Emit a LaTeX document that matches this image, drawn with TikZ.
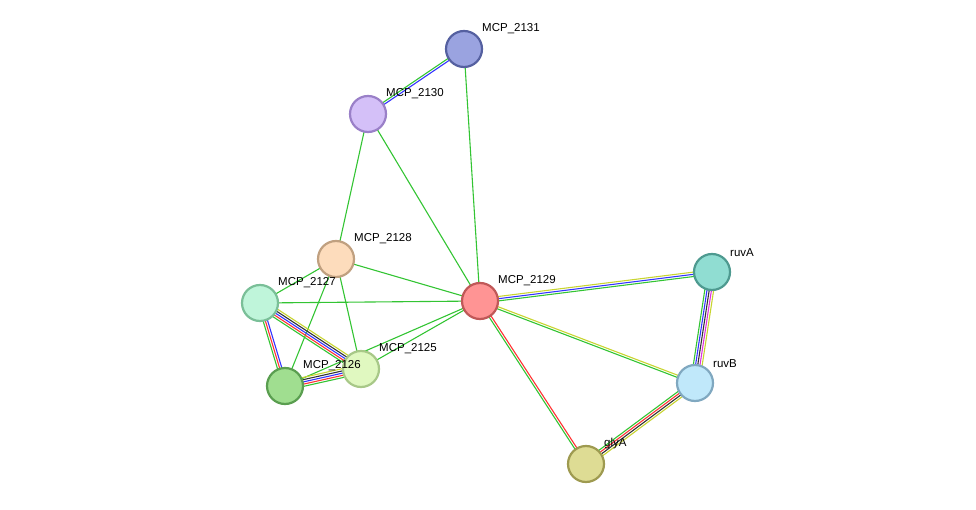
\documentclass[tikz,border=0pt]{standalone}
\usepackage{fontspec}
\setmainfont{Liberation Sans}
\usetikzlibrary{calc}
\definecolor{eg}{HTML}{33C433}
\definecolor{eb}{HTML}{3333FF}
\definecolor{er}{HTML}{FF3333}
\definecolor{ek}{HTML}{333333}
\definecolor{ey}{HTML}{C8D430}
\definecolor{em}{HTML}{DD33DD}
\newcommand{\medge}[3]{%
  \foreach \c [count=\i] in {#3} {\xdef\nn{\i}}%
  \foreach \c [count=\i] in {#3} {%
    \pgfmathsetmacro{\k}{(\i-(\nn+1)/2)*2.2}%
    \draw[\c,line width=1.1pt] ($(#1)!\k pt!90:(#2)$) -- ($(#2)!\k pt!-90:(#1)$);}}
\begin{document}
\begin{tikzpicture}[x=1pt,y=-1pt,
  prot/.style={circle,minimum size=36pt,inner sep=0pt,line width=2.2pt},
  lab/.style={font=\fontsize{11.5}{12}\selectfont,anchor=south west,inner sep=1pt}]
\useasboundingbox (0,0) rectangle (976,510);
\coordinate (n2131) at (464,49);
\coordinate (n2130) at (368,114);
\coordinate (n2128) at (336,259);
\coordinate (n2127) at (260,303);
\coordinate (n2129) at (480,301);
\coordinate (n2125) at (361,369);
\coordinate (n2126) at (285,386);
\coordinate (nruvA) at (712,272);
\coordinate (nruvB) at (695,383);
\coordinate (nglyA) at (586,464);
\medge{n2131}{n2130}{eg,eb}
\medge{n2131}{n2129}{eg}
\medge{n2130}{n2129}{eg}
\medge{n2130}{n2128}{eg}
\medge{n2128}{n2129}{eg}
\medge{n2128}{n2127}{eg}
\medge{n2128}{n2126}{eg}
\medge{n2128}{n2125}{eg}
\medge{n2127}{n2129}{eg}
\medge{n2125}{n2129}{eg}
\medge{n2126}{n2129}{eg}
\medge{n2127}{n2125}{eg,er,eb,ek,ey}
\medge{n2127}{n2126}{eg,er,eb}
\medge{n2126}{n2125}{eg,er,eb,ek,ey}
\medge{n2129}{nruvA}{eg,eb,ey}
\medge{n2129}{nruvB}{eg,ey}
\medge{n2129}{nglyA}{eg,er}
\medge{nruvA}{nruvB}{eg,eb,ek,em,ey}
\medge{nruvB}{nglyA}{eg,er,ek,ey}
\node[prot,fill={rgb,255:red,154;green,163;blue,224},draw={rgb,255:red,85;green,96;blue,160}] (a2131) at (n2131) {};
\node[prot,fill={rgb,255:red,212;green,192;blue,248},draw={rgb,255:red,154;green,128;blue,200}] (a2130) at (n2130) {};
\node[prot,fill={rgb,255:red,253;green,220;blue,188},draw={rgb,255:red,192;green,160;blue,128}] (a2128) at (n2128) {};
\node[prot,fill={rgb,255:red,191;green,245;blue,218},draw={rgb,255:red,122;green,191;blue,152}] (a2127) at (n2127) {};
\node[prot,fill={rgb,255:red,255;green,148;blue,148},draw={rgb,255:red,192;green,88;blue,88}] (a2129) at (n2129) {};
\node[prot,fill={rgb,255:red,224;green,248;blue,192},draw={rgb,255:red,168;green,200;blue,136}] (a2125) at (n2125) {};
\node[prot,fill={rgb,255:red,160;green,222;blue,144},draw={rgb,255:red,90;green,158;blue,80}] (a2126) at (n2126) {};
\node[prot,fill={rgb,255:red,144;green,221;blue,210},draw={rgb,255:red,78;green,154;blue,144}] (aruvA) at (nruvA) {};
\node[prot,fill={rgb,255:red,192;green,232;blue,250},draw={rgb,255:red,128;green,168;blue,192}] (aruvB) at (nruvB) {};
\node[prot,fill={rgb,255:red,222;green,220;blue,148},draw={rgb,255:red,158;green,154;blue,80}] (aglyA) at (nglyA) {};
\node[lab] (t2131) at ($(n2131)+(17,-14)$) {MCP\_2131};
\node[lab] (t2130) at ($(n2130)+(17,-14)$) {MCP\_2130};
\node[lab] (t2128) at ($(n2128)+(17,-14)$) {MCP\_2128};
\node[lab] (t2127) at ($(n2127)+(17,-14)$) {MCP\_2127};
\node[lab] (t2129) at ($(n2129)+(17,-14)$) {MCP\_2129};
\node[lab] (t2125) at ($(n2125)+(17,-14)$) {MCP\_2125};
\node[lab] (t2126) at ($(n2126)+(17,-14)$) {MCP\_2126};
\node[lab] (truvA) at ($(nruvA)+(17,-14)$) {ruvA};
\node[lab] (truvB) at ($(nruvB)+(17,-14)$) {ruvB};
\node[lab] (tglyA) at ($(nglyA)+(17,-14)$) {glyA};
\end{tikzpicture}
\end{document}
